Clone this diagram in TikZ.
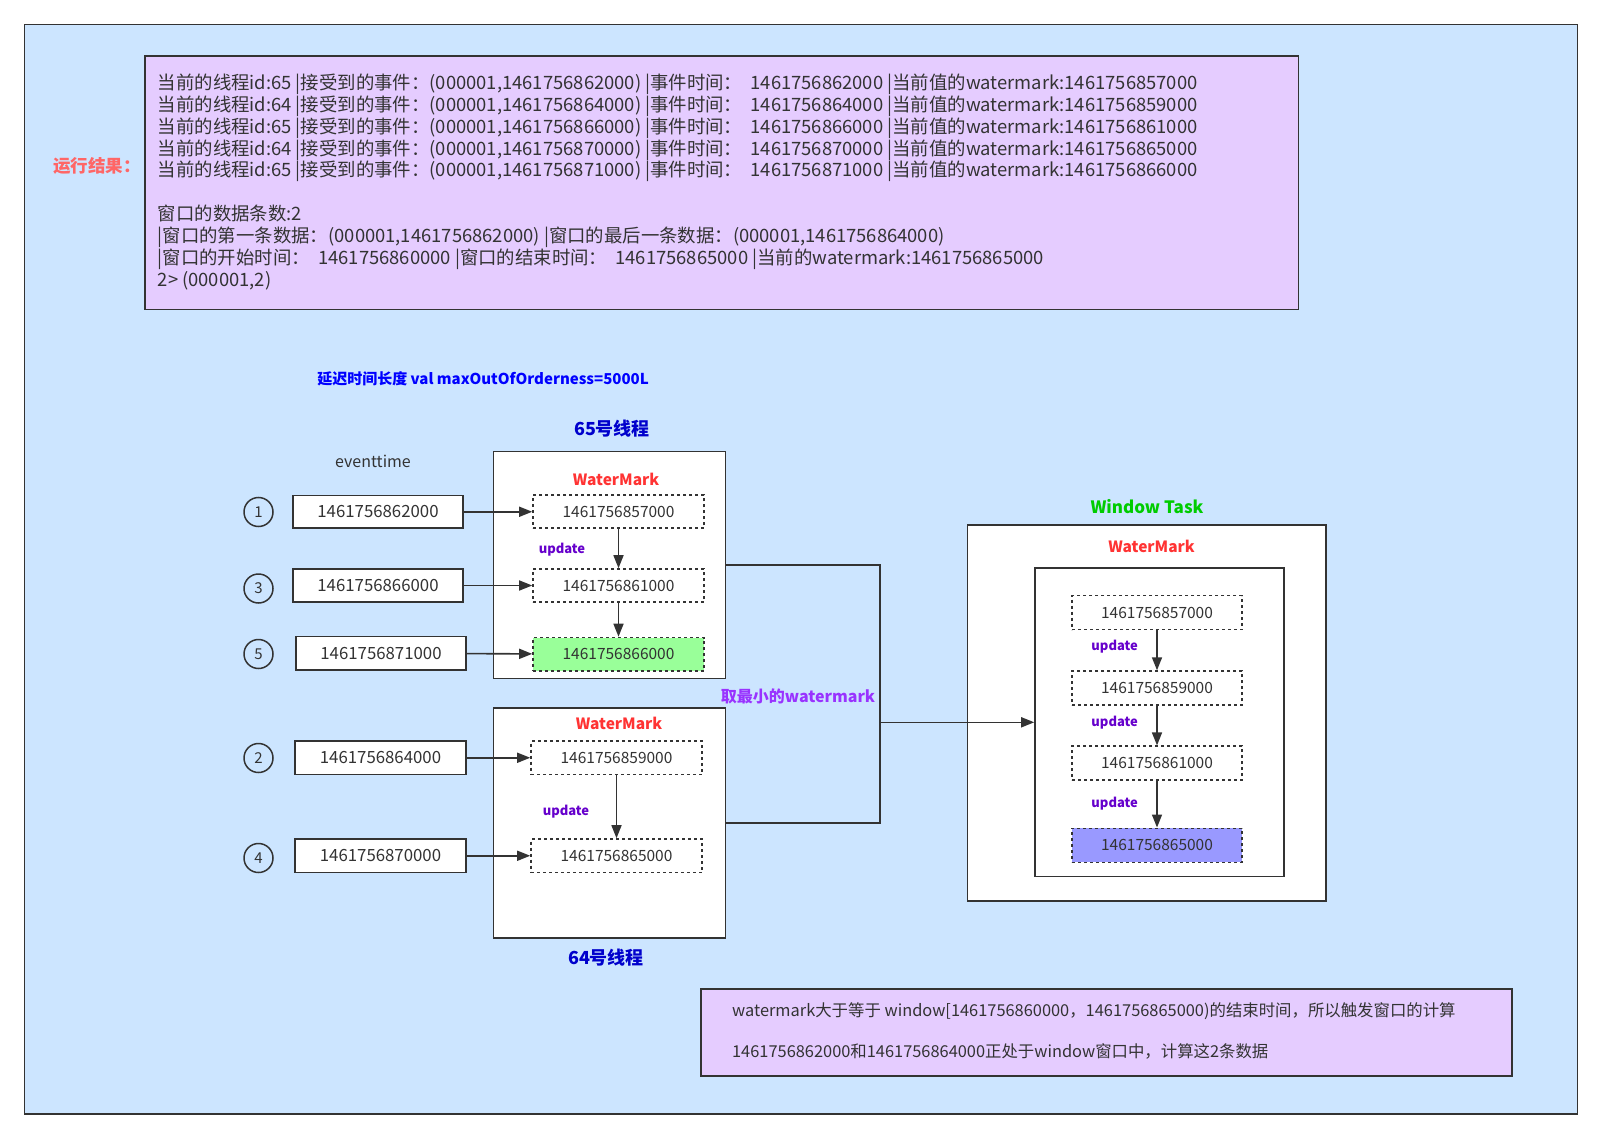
\documentclass[tikz,border=0pt]{standalone}
\usepackage{fontspec}
\setmainfont{Noto Sans CJK SC}
\usetikzlibrary{arrows.meta,positioning}

\definecolor{bgblue}{HTML}{CCE5FF}
\definecolor{lilac}{HTML}{E5CCFF}
\definecolor{lineg}{HTML}{333333}
\definecolor{wmred}{HTML}{FF3333}
\definecolor{resred}{HTML}{FF6666}
\definecolor{updpurple}{HTML}{6600CC}
\definecolor{minpurple}{HTML}{9933FF}
\definecolor{thblue}{HTML}{0000CC}
\definecolor{taskgreen}{HTML}{00CC00}
\definecolor{wmgreen}{HTML}{99FF99}
\definecolor{wmblue}{HTML}{9999FF}

\tikzset{
  evbox/.style={draw=lineg, fill=white, line width=1.6pt, minimum width=170pt,
                minimum height=32.5pt, inner sep=0pt, text=lineg,
                font=\fontsize{16.8}{18}\selectfont},
  wmbox/.style={draw=lineg, fill=white, line width=1.6pt, dash pattern=on 3pt off 3pt,
                minimum width=171pt, minimum height=33pt, inner sep=0pt, text=lineg,
                font=\fontsize{15.5}{18}\selectfont},
  thbox/.style={draw=lineg, fill=white, line width=1.6pt, inner sep=0pt},
  numcirc/.style={circle, draw=lineg, line width=1.5pt, minimum size=29pt,
                  inner sep=0pt, text=lineg, font=\fontsize{15}{18}\selectfont},
  wmlabel/.style={text=wmred, font=\bfseries\fontsize{15.5}{18}\selectfont},
  updlabel/.style={text=updpurple, font=\bfseries\fontsize{13}{15}\selectfont},
  thlabel/.style={text=thblue, font=\bfseries\fontsize{18}{20}\selectfont},
  notebox/.style={draw=lineg, fill=lilac, line width=1.6pt, inner sep=0pt},
}

\begin{document}
\begin{tikzpicture}[x=1pt, y=-1pt, ->, >={Triangle[length=13pt,width=10pt]},
                    line width=1.6pt, draw=lineg]

  \useasboundingbox (0,0) rectangle (1602,1139);
  \draw[-, fill=bgblue] (24.5,24.5) rectangle (1577.5,1113.7);

  % run output
  \node [notebox, minimum width=1153.6pt, minimum height=253.6pt] (res) at (721.8,182.8) {};
  \node [text=resred, font=\bfseries\fontsize{17.5}{20}\selectfont] (reslabel) at (97,165.5) {运行结果：};
  \node [anchor=north west, inner sep=0pt, align=left, text=lineg,
         font=\fontsize{18.4}{21.9}\selectfont] (restext) at (157,73) {%
    当前的线程id:65 |接受到的事件：(000001,1461756862000) |事件时间：\ \ 1461756862000 |当前值的watermark:1461756857000\\
    当前的线程id:64 |接受到的事件：(000001,1461756864000) |事件时间：\ \ 1461756864000 |当前值的watermark:1461756859000\\
    当前的线程id:65 |接受到的事件：(000001,1461756866000) |事件时间：\ \ 1461756866000 |当前值的watermark:1461756861000\\
    当前的线程id:64 |接受到的事件：(000001,1461756870000) |事件时间：\ \ 1461756870000 |当前值的watermark:1461756865000\\
    当前的线程id:65 |接受到的事件：(000001,1461756871000) |事件时间：\ \ 1461756871000 |当前值的watermark:1461756866000\\
    ~\\
    窗口的数据条数:2\\
    |窗口的第一条数据：(000001,1461756862000) |窗口的最后一条数据：(000001,1461756864000)\\
    |窗口的开始时间：\ \ 1461756860000 |窗口的结束时间：\ \ 1461756865000 |当前的watermark:1461756865000\\
    2> (000001,2)};

  \node [text=blue, font=\bfseries\fontsize{15}{17}\selectfont] (delay) at (483,379)
        {延迟时间长度 val maxOutOfOrderness=5000L};

  % thread 65
  \node [thlabel] (t65) at (612,429) {65号线程};
  \node [thbox, minimum width=232pt, minimum height=227pt] (th65) at (609.5,565) {};
  \node [wmlabel] (wm65) at (616,479) {WaterMark};
  \node [wmbox] (a1) at (618.5,511.75) {1461756857000};
  \node [wmbox] (a2) at (618.5,585.5) {1461756861000};
  \node [wmbox, fill=wmgreen, minimum height=33.5pt] (a3) at (618.5,654.25) {1461756866000};
  \node [updlabel] (u65) at (562,550) {update};
  \path (a1) edge (a2);
  \path (a2) edge (a3);

  \node [text=lineg, font=\fontsize{16}{18}\selectfont] (evt) at (373,461) {eventtime};
  \node [numcirc] (c1) at (258.5,512) {1};
  \node [numcirc] (c3) at (258.5,588.5) {3};
  \node [numcirc] (c5) at (258.5,654) {5};
  \node [evbox] (e1) at (378,511.75) {1461756862000};
  \node [evbox] (e3) at (378,585.5) {1461756866000};
  \node [evbox, minimum height=33.5pt] (e5) at (381,653.25) {1461756871000};
  \path (e1) edge (a1);
  \path (e3) edge (a2);
  \path (e5) edge (a3);

  % thread 64
  \node [thbox, minimum width=232pt, minimum height=230pt] (th64) at (609.5,823) {};
  \node [thlabel] (t64) at (606,958) {64号线程};
  \node [wmlabel] (wm64) at (619,723) {WaterMark};
  \node [wmbox, minimum height=33.5pt] (b1) at (616.5,757.75) {1461756859000};
  \node [wmbox, minimum height=33.5pt] (b2) at (616.5,855.75) {1461756865000};
  \node [updlabel] (u64) at (566,812) {update};
  \path (b1) edge (b2);

  \node [numcirc] (c2) at (258.5,758) {2};
  \node [numcirc] (c4) at (258.5,858) {4};
  \node [evbox, minimum width=171pt, minimum height=33.5pt] (e2) at (380.5,757.75) {1461756864000};
  \node [evbox, minimum width=171pt, minimum height=33.5pt] (e4) at (380.5,855.75) {1461756870000};
  \path (e2) edge (b1);
  \path (e4) edge (b2);

  % window task
  \node [text=taskgreen, font=\bfseries\fontsize{17}{20}\selectfont] (task) at (1147,507) {Window Task};
  \node [thbox, minimum width=358.5pt, minimum height=376pt] (win) at (1146.75,713) {};
  \node [wmlabel] (wmwin) at (1151.5,546.6) {WaterMark};
  \node [thbox, minimum width=249pt, minimum height=308.6pt] (inner) at (1159.5,722.3) {};
  \node [wmbox, minimum width=170pt, minimum height=34pt] (w1) at (1157,612.5) {1461756857000};
  \node [wmbox, minimum width=170pt, minimum height=34pt, below=40pt of w1] (w2) {1461756859000};
  \node [wmbox, minimum width=170pt, minimum height=34pt, below=39.5pt of w2] (w3) {1461756861000};
  \node [wmbox, minimum width=170pt, minimum height=34pt, below=46.5pt of w3, fill=wmblue] (w4) {1461756865000};
  \node [updlabel] (uw1) at (1114.7,646.7) {update};
  \node [updlabel] (uw2) at (1114.7,722.3) {update};
  \node [updlabel] (uw3) at (1114.7,804) {update};
  \path (w1) edge (w2);
  \path (w2) edge (w3);
  \path (w3) edge (w4);

  % min of both threads
  \coordinate (merge) at (879.7,722.3);
  \draw [-] (th65.east) -| (merge) |- (th64.east);
  \draw (merge) -- (inner.west);
  \node [text=minpurple, font=\bfseries\fontsize{16}{18}\selectfont] (minlabel) at (798,696) {取最小的watermark};

  % note
  \node [notebox, minimum width=811pt, minimum height=87pt] (note) at (1106.5,1032.5) {};
  \node [anchor=west, text=lineg, font=\fontsize{16.4}{18}\selectfont] (n1) at (728,1011.5)
        {watermark大于等于 window[1461756860000，1461756865000)的结束时间，所以触发窗口的计算};
  \node [anchor=west, text=lineg, font=\fontsize{16.4}{18}\selectfont] (n2) at (728,1051)
        {1461756862000和1461756864000正处于window窗口中，计算这2条数据};

\end{tikzpicture}
\end{document}
